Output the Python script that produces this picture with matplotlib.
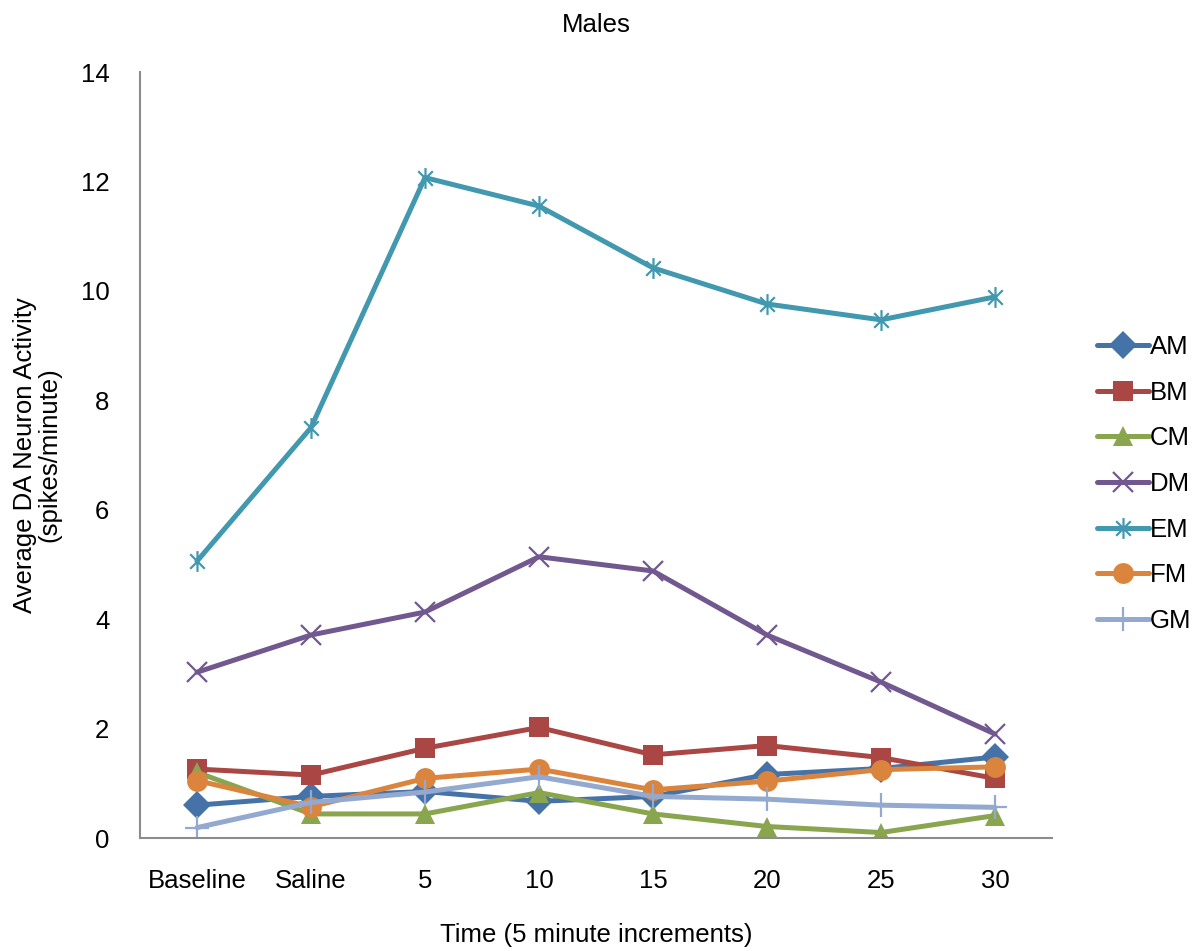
import matplotlib
matplotlib.use('Agg')
import matplotlib.pyplot as plt
from matplotlib.path import Path

plt.rcParams['font.family'] = ['Liberation Sans', 'DejaVu Sans']

#%% data

time_labels = ['Baseline', 'Saline', '5', '10', '15', '20', '25', '30']

AM = [0.60, 0.76, 0.85, 0.67, 0.76, 1.16, 1.27, 1.48]
BM = [1.26, 1.15, 1.64, 2.02, 1.52, 1.69, 1.47, 1.09]
CM = [1.20, 0.44, 0.44, 0.83, 0.44, 0.21, 0.10, 0.41]
DM = [3.03, 3.71, 4.13, 5.14, 4.88, 3.71, 2.85, 1.90]
EM = [5.06, 7.50, 12.07, 11.55, 10.42, 9.76, 9.47, 9.89]
FM = [1.05, 0.57, 1.09, 1.26, 0.88, 1.04, 1.25, 1.30]
GM = [0.19, 0.65, 0.84, 1.12, 0.76, 0.71, 0.60, 0.56]

series_names = ['AM', 'BM', 'CM', 'DM', 'EM', 'FM', 'GM']
series_values = [AM, BM, CM, DM, EM, FM, GM]

#%% styles

col = ['#4572A7', '#AA4643', '#89A54E', '#71588F', '#4198AF', '#DB843D', '#93A9CF']

# asterisk marker: vertical bar plus an x
star = Path([(0, -1), (0, 1), (-0.7, -0.7), (0.7, 0.7), (-0.7, 0.7), (0.7, -0.7)],
            [Path.MOVETO, Path.LINETO, Path.MOVETO, Path.LINETO, Path.MOVETO, Path.LINETO])

markers = ['D', 's', '^', 'x', star, 'o', '+']
msizes = [14, 15, 15, 14, 15, 15, 17]
fsize = 18.5

#%% plot

fig = plt.figure(figsize=(11.99, 9.51), dpi=100)
ax = fig.add_axes([140/1199, 1-838/951, (1052-140)/1199, (838-72)/951])

x = list(range(len(time_labels)))
for name, vals, c, m, ms in zip(series_names, series_values, col, markers, msizes):
    hollow = m in ('x', '+') or m is star
    ax.plot(x, vals, color=c, linewidth=3.6, marker=m, markersize=ms,
            markeredgewidth=1.6 if hollow else 0, markeredgecolor=c,
            markerfacecolor=c, label=name, solid_capstyle='round')

ax.set_xlim(-0.5, len(time_labels)-0.5)
ax.set_ylim(0, 14)
ax.set_yticks(range(0, 15, 2))
ax.set_xticks(x)
ax.set_xticklabels(time_labels)
ax.tick_params(axis='both', length=0, labelsize=fsize)
ax.tick_params(axis='x', pad=22)
ax.tick_params(axis='y', pad=22)

for s in ['top', 'right']:
    ax.spines[s].set_visible(False)
for s in ['left', 'bottom']:
    ax.spines[s].set_color('#8c8c8c')
    ax.spines[s].set_linewidth(1.5)

ax.set_title('Males', fontsize=fsize, pad=29)
ax.set_xlabel('Time (5 minute increments)', fontsize=fsize, va='center')
ax.xaxis.set_label_coords(0.5, (838-935)/766)
ax.set_ylabel('Average DA Neuron Activity\n(spikes/minute)', fontsize=fsize,
              va='center', linespacing=1.02)
ax.yaxis.set_label_coords((37-140)/912, 0.5)

leg = fig.legend(loc='upper left', bbox_to_anchor=(1087/1199, 1-325/951),
                 frameon=False, fontsize=fsize, handlelength=2.0,
                 handletextpad=0.05, labelspacing=0.84, borderaxespad=0)

fig.savefig('out.png', dpi=100)
